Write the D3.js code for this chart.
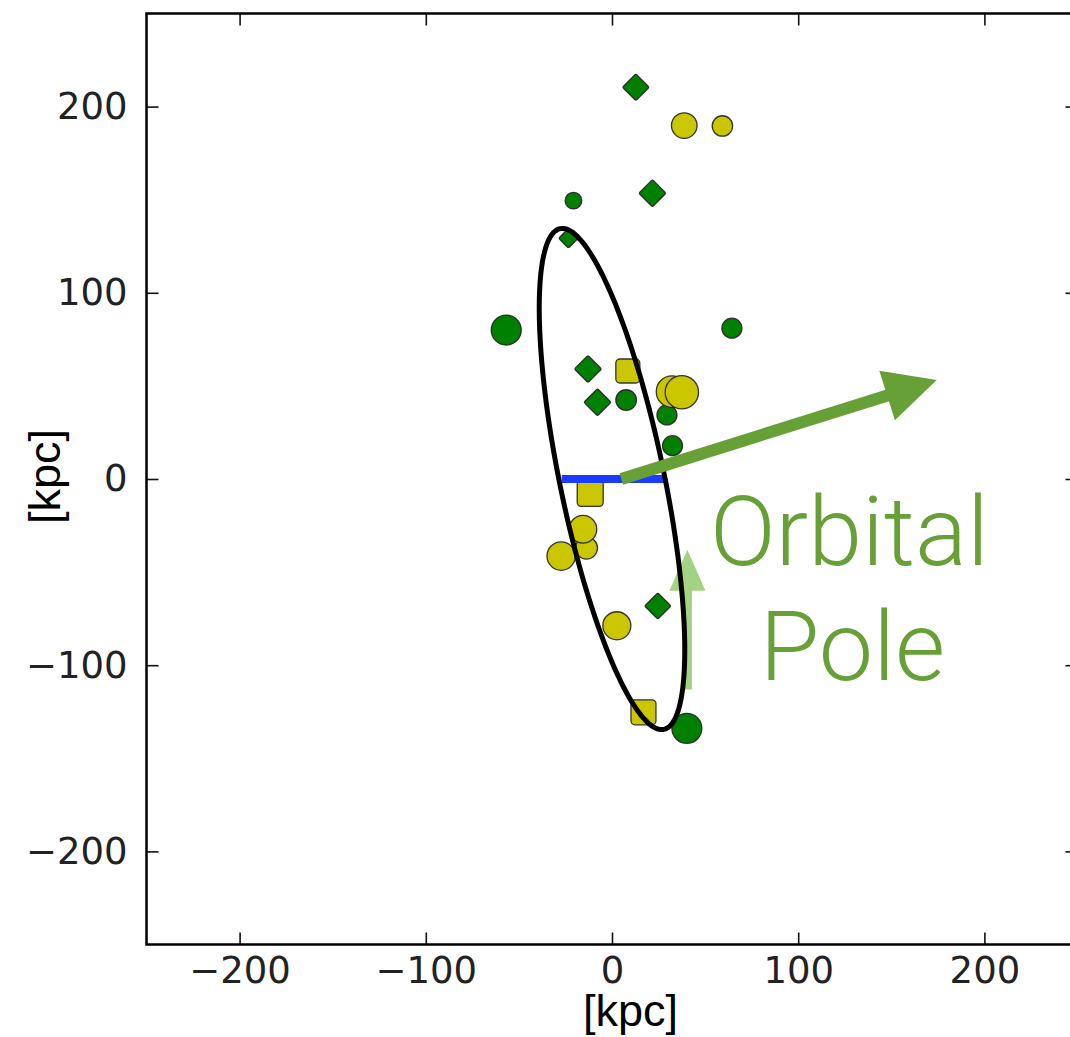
<!DOCTYPE html>
<html>
<head>
<meta charset="utf-8">
<script src="https://cdn.jsdelivr.net/npm/d3@7"></script>
<style>
  html, body { margin: 0; padding: 0; background: #fff; }
  svg { display: block; }
</style>
</head>
<body>
<svg id="chart" width="1070" height="1037"></svg>
<script>
// ---------------- data ----------------
const xTicks = [-200, -100, 0, 100, 200];
const yTicks = [-200, -100, 0, 100, 200];
const axisLabelX = "[kpc]";
const axisLabelY = "[kpc]";

// green satellites
const greenX     = [12.8, -20.7, 21.7, -23.4, -56.8, 64.4, -12.9, -7.8, 7.6, 29.5, 32.5, 24.6, 40.2];
const greenY     = [210.4, 149.5, 153.5, 129.3, 80.0, 81.0, 59.1, 41.2, 42.4, 34.4, 17.9, -68.2, -133.9];
const greenShape = ["D", "o", "D", "D", "o", "o", "D", "D", "o", "o", "o", "D", "o"];
const greenSize  = [13.4, 8.3, 13.6, 9.8, 15.0, 10.0, 13.6, 13.6, 10.3, 10.0, 10.0, 13.2, 15.0];

// yellow satellites
const yellowX     = [-13.7, 38.8, 59.3, 8.5, 32.2, 37.5, -11.7, -15.6, -27.3, 2.6, 16.9];
const yellowY     = [-37.1, 189.8, 189.6, 58.0, 46.9, 46.6, -7.7, -27.0, -41.4, -78.8, -125.3];
const yellowShape = ["o", "o", "o", "s", "o", "o", "s", "o", "o", "o", "s"];
const yellowSize  = [11.0, 12.8, 10.2, 12.0, 15.7, 16.7, 13.0, 13.8, 14.2, 14.0, 12.5];

// disk (blue line) endpoints
const diskX = [-27, 28.6];
const diskY = [0, 0];

// plane ellipse: center, semi-axes (minor, major), tilt (deg)
const ellipseCenter = [0, 0];
const ellipseAxes = [28, 137.3];
const ellipseTiltDeg = 11.7;

// orbital pole arrows
const poleArrow = { from: [5, 0], to: [174.4, 53.2] };
const smallArrow = { from: [40.5, -113], to: [40.5, -38] };
const poleTextLines = ["Orbital", "Pole"];
const poleTextAnchor = [127.5, -46];

// ---------------- layout ----------------
const svg = d3.select("#chart");
const L = 146.5, R = 1077.5, T = 13.5, B = 944.5;
const x = d3.scaleLinear().domain([-250, 250]).range([L, R]);
const y = d3.scaleLinear().domain([-250, 250]).range([B, T]);
const sizeScale = d3.scaleLinear().domain([0, 20]).range([0, 20]);

const fmt = d => d < 0 ? "\u2212" + Math.abs(d) : String(d);
const tickFont = "'DejaVu Sans', sans-serif";

// axes
function styleAxis(g) {
  g.select(".domain").remove();
  g.selectAll(".tick line").attr("stroke", "#111").attr("stroke-width", 1.6);
  g.selectAll(".tick text").attr("font-family", tickFont).attr("font-size", 37).attr("fill", "#222");
}
svg.append("g").attr("transform", `translate(0,${B})`)
  .call(d3.axisBottom(x).tickValues(xTicks).tickFormat(fmt).tickSize(-12).tickPadding(12)).call(styleAxis);
svg.append("g").attr("transform", `translate(${L},0)`)
  .call(d3.axisLeft(y).tickValues(yTicks).tickFormat(fmt).tickSize(-12).tickPadding(19)).call(styleAxis);
svg.append("g").attr("transform", `translate(0,${T})`)
  .call(d3.axisTop(x).tickValues(xTicks).tickFormat("").tickSize(-12)).call(styleAxis);
svg.append("g").attr("transform", `translate(${R},0)`)
  .call(d3.axisRight(y).tickValues(yTicks).tickFormat("").tickSize(-12)).call(styleAxis);

// markers
function drawMarkers(xs, ys, shapes, sizes, fill) {
  const g = svg.append("g");
  xs.forEach((xv, i) => {
    const cx = x(xv), cy = y(ys[i]), r = sizeScale(sizes[i]);
    const common = s => s.attr("fill", fill).attr("stroke", "#222").attr("stroke-opacity", 0.9).attr("stroke-width", 1.3);
    if (shapes[i] === "o") {
      g.append("circle").attr("cx", cx).attr("cy", cy).attr("r", r).call(common);
    } else if (shapes[i] === "D") {
      const s = r * Math.SQRT2;
      g.append("rect").attr("x", -s / 2).attr("y", -s / 2).attr("width", s).attr("height", s).attr("rx", 1.5)
        .attr("transform", `translate(${cx},${cy}) rotate(45)`).call(common);
    } else {
      g.append("rect").attr("x", cx - r).attr("y", cy - r).attr("width", 2 * r).attr("height", 2 * r).attr("rx", 4).call(common);
    }
  });
}
drawMarkers(greenX, greenY, greenShape, greenSize, "#008000");
drawMarkers(yellowX, yellowY, yellowShape, yellowSize, "#cac700");

// disk
svg.append("line")
  .attr("x1", x(diskX[0])).attr("y1", y(diskY[0])).attr("x2", x(diskX[1])).attr("y2", y(diskY[1]))
  .attr("stroke", "#1a3cff").attr("stroke-width", 8);

// arrow helper
function arrow(a, color, shaftW, headLen, headHalf) {
  const x0 = x(a.from[0]), y0 = y(a.from[1]), x1 = x(a.to[0]), y1 = y(a.to[1]);
  const dx = x1 - x0, dy = y1 - y0, len = Math.hypot(dx, dy);
  const ux = dx / len, uy = dy / len, px = -uy, py = ux;
  const bx = x1 - ux * headLen, by = y1 - uy * headLen;
  const g = svg.append("g");
  g.append("line").attr("x1", x0).attr("y1", y0).attr("x2", bx + ux * 2).attr("y2", by + uy * 2)
    .attr("stroke", color).attr("stroke-width", shaftW);
  g.append("path").attr("d", d3.line()([[x1, y1], [bx + px * headHalf, by + py * headHalf], [bx - px * headHalf, by - py * headHalf]]) + "Z")
    .attr("fill", color);
}

// small light arrow (under ellipse)
arrow(smallArrow, "#a2d382", 9, 41, 18);

// ellipse
const th = ellipseTiltDeg * Math.PI / 180;
const ellPts = d3.range(0, 361, 2).map(deg => {
  const t = deg * Math.PI / 180;
  const u = ellipseAxes[0] * Math.cos(t), v = ellipseAxes[1] * Math.sin(t);
  const ex = ellipseCenter[0] + u * Math.cos(th) - v * Math.sin(th);
  const ey = ellipseCenter[1] + u * Math.sin(th) + v * Math.cos(th);
  return [x(ex), y(ey)];
});
svg.append("path").attr("d", d3.line().curve(d3.curveCardinalClosed)(ellPts.slice(0, -1)))
  .attr("fill", "none").attr("stroke", "#000").attr("stroke-width", 5);

// pole arrow
arrow(poleArrow, "#68a038", 12, 52, 26);

// pole text
const pt = svg.append("text")
  .attr("x", x(poleTextAnchor[0])).attr("y", y(poleTextAnchor[1]))
  .attr("text-anchor", "middle")
  .attr("font-family", "Roboto, 'Open Sans', sans-serif").attr("font-weight", 300)
  .attr("font-size", 97).attr("fill", "#68a038");
poleTextLines.forEach((s, i) => {
  pt.append("tspan").attr("x", x(poleTextAnchor[0]) + (i ? 3 : 0)).attr("dy", i ? 115 : 0).text(s);
});

// spines
svg.append("rect").attr("x", L).attr("y", T).attr("width", R - L).attr("height", B - T)
  .attr("fill", "none").attr("stroke", "#000").attr("stroke-width", 2.5);

// axis labels
svg.append("text").attr("x", 630.5).attr("y", 1026).attr("text-anchor", "middle")
  .attr("font-family", "'Liberation Sans', Arial, sans-serif").attr("font-size", 45).attr("fill", "#000").text(axisLabelX);
svg.append("text").attr("transform", "translate(59.5,476.5) rotate(-90)").attr("text-anchor", "middle")
  .attr("font-family", "'Liberation Sans', Arial, sans-serif").attr("font-size", 45).attr("fill", "#000").text(axisLabelY);
</script>
</body>
</html>
